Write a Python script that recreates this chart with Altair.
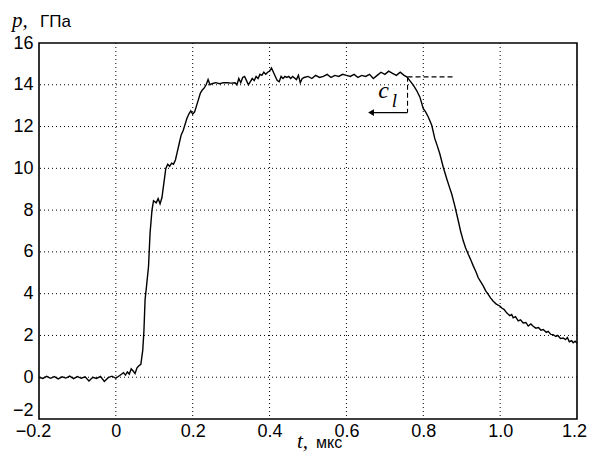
import altair as alt
import pandas as pd

# time, us
t_us = [-0.20, -0.19, -0.18, -0.17, -0.16, -0.15, -0.14, -0.13, -0.12, -0.11,
        -0.10, -0.09, -0.08, -0.07, -0.06, -0.05, -0.04, -0.03, -0.02, -0.01,
        0.00, 0.01, 0.02, 0.025, 0.03, 0.035, 0.04, 0.045, 0.05, 0.055,
        0.06, 0.065, 0.070, 0.073, 0.076, 0.080, 0.085, 0.089, 0.094, 0.098,
        0.105, 0.110, 0.115, 0.120, 0.125, 0.130, 0.135, 0.140, 0.145, 0.150,
        0.155, 0.160, 0.165, 0.170, 0.175, 0.180, 0.185, 0.190, 0.195, 0.200,
        0.205, 0.210, 0.215, 0.220, 0.225, 0.230, 0.235, 0.240, 0.245, 0.250,
        0.260, 0.270, 0.280, 0.290, 0.300, 0.310, 0.315, 0.320, 0.325, 0.330,
        0.335, 0.340, 0.345, 0.350, 0.355, 0.360, 0.365, 0.370, 0.375, 0.380,
        0.385, 0.390, 0.395, 0.400, 0.405, 0.410, 0.415, 0.420, 0.425, 0.430,
        0.435, 0.440, 0.445, 0.450, 0.455, 0.460, 0.470, 0.475, 0.480, 0.485,
        0.490, 0.500, 0.510, 0.520, 0.530, 0.540, 0.550, 0.560, 0.570, 0.580,
        0.590, 0.600, 0.610, 0.620, 0.630, 0.640, 0.650, 0.660, 0.670, 0.680,
        0.690, 0.700, 0.710, 0.720, 0.730, 0.740, 0.750, 0.757, 0.765, 0.774,
        0.782, 0.791, 0.800, 0.806, 0.813, 0.822, 0.830, 0.836, 0.843, 0.852,
        0.861, 0.868, 0.874, 0.882, 0.891, 0.897, 0.904, 0.910, 0.917, 0.924,
        0.930, 0.937, 0.943, 0.950, 0.956, 0.962, 0.969, 0.975, 0.982, 0.990,
        1.000, 1.005, 1.010, 1.017, 1.025, 1.030, 1.034, 1.040, 1.047, 1.053,
        1.060, 1.067, 1.073, 1.080, 1.086, 1.093, 1.100, 1.106, 1.112, 1.120,
        1.125, 1.132, 1.138, 1.145, 1.150, 1.157, 1.164, 1.170, 1.175, 1.180,
        1.186, 1.190, 1.195, 1.200]

# pressure, GPa
p_gpa = [0.00, -0.06, 0.04, -0.05, 0.03, -0.08, 0.02, -0.04, 0.05, -0.07,
         0.03, -0.05, 0.02, -0.18, 0.00, -0.06, 0.04, -0.20, -0.02, 0.05,
         -0.05, 0.08, 0.22, 0.10, 0.25, 0.15, 0.40, 0.30, 0.18, 0.45,
         0.55, 0.62, 1.30, 2.20, 3.70, 4.40, 5.30, 6.90, 8.00, 8.45,
         8.35, 8.55, 8.30, 8.60, 9.30, 10.00, 10.20, 10.10, 10.25, 10.20,
         10.40, 10.80, 11.20, 11.60, 11.80, 12.10, 12.40, 12.60, 12.75, 12.60,
         12.70, 13.00, 13.30, 13.60, 13.75, 13.85, 14.00, 14.25, 14.00, 14.05,
         14.10, 14.05, 14.10, 14.10, 14.08, 14.10, 14.00, 14.30, 14.10, 14.35,
         14.40, 14.20, 14.00, 14.15, 14.30, 14.20, 14.40, 14.30, 14.50, 14.45,
         14.60, 14.50, 14.60, 14.65, 14.80, 14.60, 14.40, 14.20, 14.15, 14.40,
         14.30, 14.40, 14.35, 14.40, 14.30, 14.40, 14.25, 14.45, 14.10, 14.30,
         14.35, 14.40, 14.30, 14.45, 14.35, 14.40, 14.50, 14.35, 14.45, 14.40,
         14.50, 14.45, 14.40, 14.50, 14.35, 14.45, 14.40, 14.50, 14.30, 14.45,
         14.60, 14.50, 14.65, 14.55, 14.45, 14.60, 14.45, 14.38, 14.20, 13.98,
         13.75, 13.42, 12.86, 12.70, 12.46, 12.06, 11.42, 11.10, 10.70, 10.05,
         9.50, 9.10, 8.77, 8.20, 7.49, 7.00, 6.53, 6.20, 5.89, 5.60,
         5.33, 5.05, 4.76, 4.55, 4.37, 4.15, 3.97, 3.80, 3.64, 3.50,
         3.40, 3.30, 3.25, 3.08, 2.95, 3.00, 2.84, 2.90, 2.70, 2.75,
         2.60, 2.62, 2.45, 2.55, 2.44, 2.35, 2.38, 2.25, 2.28, 2.15,
         2.20, 2.05, 2.04, 1.95, 2.00, 1.85, 1.88, 1.80, 1.90, 1.70,
         1.75, 1.65, 1.72, 1.62]

x_ticks = [-0.2, 0, 0.2, 0.4, 0.6, 0.8, 1.0, 1.2]
y_ticks = [-2, 0, 2, 4, 6, 8, 10, 12, 14, 16]
x_grid = [0, 0.2, 0.4, 0.6, 0.8, 1.0]
y_grid = [0, 2, 4, 6, 8, 10, 12, 14]

# annotation (c_l marker)
dash_h_t = [0.759, 0.882]
dash_level = 14.38
arrow_level = 12.67
arrow_t = [0.759, 0.668]
label_c = {"t": 0.683, "p": 13.37}
label_l = {"t": 0.718, "p": 12.95}

df = pd.DataFrame({"t": t_us, "p": p_gpa})

xs = alt.Scale(domain=[-0.2, 1.2], nice=False, zero=False)
ys = alt.Scale(domain=[-2, 16], nice=False, zero=False)

xaxis = alt.Axis(values=x_ticks, labelFlush=False, labelPadding=3, title=None,
                 labelOffset=alt.ExprRef(expr="datum.value > 1.1 ? -3 : (datum.value < -0.1 ? -6 : 0)"),
                 labelExpr="datum.value == 0 ? '0' : replace(format(datum.value, '.1f'), '-', '\u2212')")
yaxis = alt.Axis(values=y_ticks, format="d", labelPadding=6, title=None,
                 labelBaseline=alt.ExprRef(expr="datum.value == -2 ? 'bottom' : 'middle'"))

def X(field="t"):
    return alt.X(f"{field}:Q", scale=xs, title=None)

def Y(field="p"):
    return alt.Y(f"{field}:Q", scale=ys, title=None)

vgrid = alt.Chart(pd.DataFrame({"t": x_grid})).mark_rule(
    color="black", strokeDash=[1, 3], strokeWidth=1).encode(x=X())
hgrid = alt.Chart(pd.DataFrame({"p": y_grid})).mark_rule(
    color="black", strokeDash=[1, 3], strokeWidth=1).encode(y=Y())

line = alt.Chart(df).mark_line(color="black", strokeWidth=1.4).encode(
    x=alt.X("t:Q", scale=xs, axis=xaxis),
    y=alt.Y("p:Q", scale=ys, axis=yaxis),
)

hdash = alt.Chart(pd.DataFrame({"t": [dash_h_t[0]], "t2": [dash_h_t[1]], "p": [dash_level]})).mark_rule(
    color="black", strokeDash=[5, 3], strokeWidth=1.1).encode(
    x=X(), x2="t2:Q", y=Y())

vdash = alt.Chart(pd.DataFrame({"t": [dash_h_t[0]], "p": [dash_level], "p2": [arrow_level]})).mark_rule(
    color="black", strokeDash=[5, 3], strokeWidth=1.1).encode(
    x=X(), y=Y(), y2="p2:Q")

arrow = alt.Chart(pd.DataFrame({"t": [arrow_t[0]], "t2": [arrow_t[1]], "p": [arrow_level]})).mark_rule(
    color="black", strokeWidth=1.2).encode(
    x=X(), x2="t2:Q", y=Y())

head = alt.Chart(pd.DataFrame({"t": [arrow_t[1] - 0.004], "p": [arrow_level]})).mark_point(
    shape="triangle-left", filled=True, color="black", size=45, opacity=1).encode(
    x=X(), y=Y())

c_txt = alt.Chart(pd.DataFrame({"t": [label_c["t"]], "p": [label_c["p"]], "s": ["c"]})).mark_text(
    font="Liberation Serif", fontStyle="italic", fontSize=24, align="left", baseline="alphabetic",
    color="black").encode(x=X(), y=Y(), text="s:N")

l_txt = alt.Chart(pd.DataFrame({"t": [label_l["t"]], "p": [label_l["p"]], "s": ["l"]})).mark_text(
    font="Liberation Serif", fontStyle="italic", fontSize=19, align="left", baseline="alphabetic",
    color="black").encode(x=X(), y=Y(), text="s:N")

# axis titles (mixed fonts)
p_sym = alt.Chart(pd.DataFrame({"s": ["p,"]})).mark_text(
    font="Liberation Serif", fontStyle="italic", fontSize=21, align="left", baseline="alphabetic",
    color="black").encode(x=alt.value(-27), y=alt.value(-16), text="s:N")
p_unit = alt.Chart(pd.DataFrame({"s": ["ГПа"]})).mark_text(
    font="Liberation Sans", fontSize=17, align="left", baseline="alphabetic",
    color="black").encode(x=alt.value(1), y=alt.value(-16), text="s:N")
t_sym = alt.Chart(pd.DataFrame({"s": ["t,"]})).mark_text(
    font="Liberation Serif", fontStyle="italic", fontSize=21, align="left", baseline="alphabetic",
    color="black").encode(x=alt.value(258), y=alt.value(405), text="s:N")
t_unit = alt.Chart(pd.DataFrame({"s": ["мкс"]})).mark_text(
    font="Liberation Sans", fontSize=16, align="left", baseline="alphabetic",
    color="black").encode(x=alt.value(277), y=alt.value(405), text="s:N")

chart = alt.layer(line, vgrid, hgrid, hdash, vdash, arrow, head, c_txt, l_txt,
                  p_sym, p_unit, t_sym, t_unit).properties(
    width=538, height=376,
    autosize=alt.AutoSizeParams(type="none"),
    padding={"left": 31, "top": 35, "right": 11, "bottom": 34},
    background="white",
).configure_view(
    stroke="black", strokeWidth=1.6
).configure_axis(
    grid=False, domain=False, ticks=False,
    labelFont="Liberation Sans", labelFontSize=18, labelColor="black",
)

chart.save("out.html", embed_options={"renderer": "svg", "actions": False})
